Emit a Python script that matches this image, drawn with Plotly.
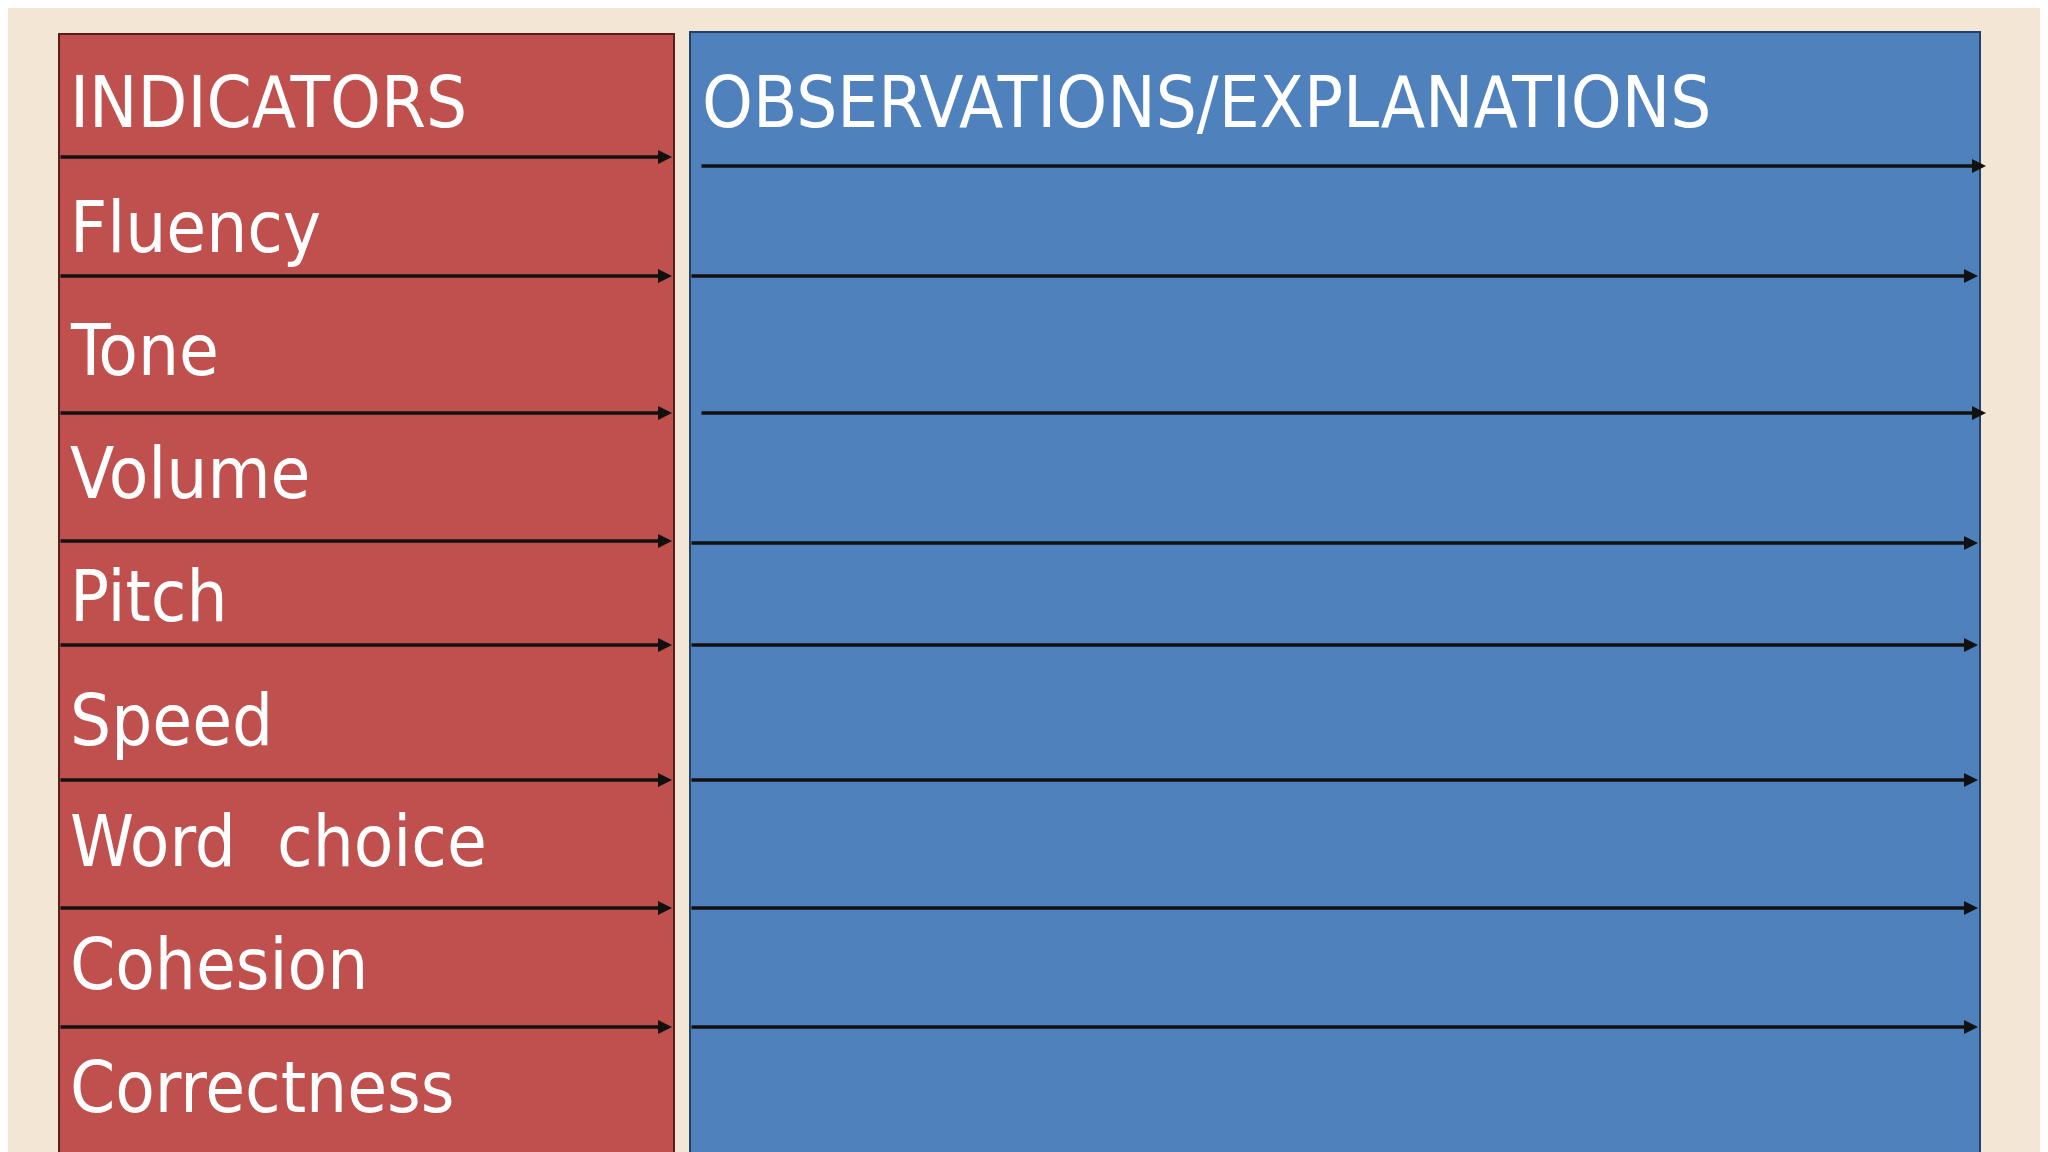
import plotly.graph_objects as go

labels = ["INDICATORS", "Fluency", "Tone", "Volume", "Pitch", "Speed", "Word  choice", "Cohesion", "Correctness"]
label_y = [94, 219, 342, 465, 588, 712, 833, 956, 1079]
header_right = "OBSERVATIONS/EXPLANATIONS"
red_lines = [149, 268, 405, 533, 637, 772, 900, 1019]
blue_lines = [158, 268, 405, 535, 637, 772, 900, 1019]

FONT = "DejaVu Sans Condensed, DejaVu Sans"

fig = go.Figure()
shapes = [
    dict(type="rect", x0=51, x1=666, y0=26, y1=1160, fillcolor="#c0504d", line=dict(color="#5a1f1c", width=2)),
    dict(type="rect", x0=682, x1=1972, y0=24, y1=1160, fillcolor="#4f81bd", line=dict(color="#23406a", width=2)),
]
ann = []
for y in red_lines:
    ann.append(dict(x=664, y=y, ax=51, ay=y, xref="x", yref="y", axref="x", ayref="y", text="",
                    showarrow=True, arrowhead=2, arrowsize=0.8, arrowwidth=3.5, arrowcolor="#111"))
for i, y in enumerate(blue_lines):
    x0 = 692 if i in (0, 2) else 682
    x1 = 1978 if i in (0, 2) else 1970
    ann.append(dict(x=x1, y=y, ax=x0, ay=y, xref="x", yref="y", axref="x", ayref="y", text="",
                    showarrow=True, arrowhead=2, arrowsize=0.8, arrowwidth=3.5, arrowcolor="#111"))
for t, y in zip(labels, label_y):
    ann.append(dict(x=60, y=y, xref="x", yref="y", text=t, showarrow=False, xanchor="left", yanchor="middle",
                    font=dict(family=FONT, size=72, color="white")))
ann.append(dict(x=692, y=label_y[0], xref="x", yref="y", text=header_right, showarrow=False, xanchor="left",
                yanchor="middle", font=dict(family=FONT, size=72, color="white")))

fig.update_layout(
    width=2048, height=1152, margin=dict(l=0, r=0, t=0, b=0),
    paper_bgcolor="#f3e6d5", plot_bgcolor="#f3e6d5",
    xaxis=dict(range=[0, 2048], visible=False, fixedrange=True),
    yaxis=dict(range=[1152, 0], visible=False, fixedrange=True),
    shapes=shapes, annotations=ann, showlegend=False,
)
fig.write_html("out.html")
